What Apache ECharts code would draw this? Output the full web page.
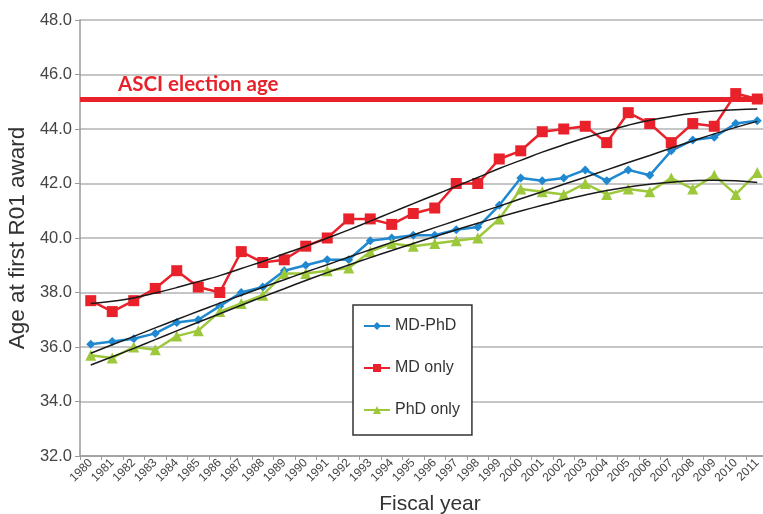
<!DOCTYPE html>
<html>
<head>
    <meta charset="utf-8">
    <title>Age at first R01 award</title>
    <script src="https://cdn.jsdelivr.net/npm/echarts@6/dist/echarts.min.js"></script>
    <style>
        html, body { margin: 0; padding: 0; background: #fff; }
        #chart1 { width: 763px; height: 514px; }
    </style>
</head>
<body>
<div id="chart1"></div>
<script type="text/javascript">
    // fiscal years
    var years = ['1980','1981','1982','1983','1984','1985','1986','1987','1988','1989',
        '1990','1991','1992','1993','1994','1995','1996','1997','1998','1999',
        '2000','2001','2002','2003','2004','2005','2006','2007','2008','2009','2010','2011'];

    // age at first R01 award
    var mdPhd = [36.1, 36.2, 36.3, 36.5, 36.9, 37.0, 37.5, 38.0, 38.2, 38.8,
        39.0, 39.2, 39.2, 39.9, 40.0, 40.1, 40.1, 40.3, 40.4, 41.2,
        42.2, 42.1, 42.2, 42.5, 42.1, 42.5, 42.3, 43.2, 43.6, 43.7, 44.2, 44.3];
    var mdOnly = [37.7, 37.3, 37.7, 38.15, 38.8, 38.2, 38.0, 39.5, 39.1, 39.2,
        39.7, 40.0, 40.7, 40.7, 40.5, 40.9, 41.1, 42.0, 42.0, 42.9,
        43.2, 43.9, 44.0, 44.1, 43.5, 44.6, 44.2, 43.5, 44.2, 44.1, 45.3, 45.1];
    var phdOnly = [35.7, 35.6, 36.0, 35.9, 36.4, 36.6, 37.3, 37.6, 37.9, 38.7,
        38.7, 38.8, 38.9, 39.5, 39.8, 39.7, 39.8, 39.9, 40.0, 40.7,
        41.8, 41.7, 41.6, 42.0, 41.6, 41.8, 41.7, 42.2, 41.8, 42.3, 41.6, 42.4];

    // trend lines
    var mdOnlyTrend = [37.60, 37.68, 37.80, 37.98, 38.18, 38.40, 38.62, 38.88, 39.14, 39.42,
        39.70, 40.00, 40.30, 40.62, 40.94, 41.26, 41.58, 41.90, 42.22, 42.55,
        42.85, 43.15, 43.42, 43.68, 43.92, 44.14, 44.32, 44.46, 44.58, 44.66, 44.71, 44.73];
    var mdPhdTrend = [35.77, 36.08, 36.39, 36.70, 37.01, 37.31, 37.61, 37.90, 38.19, 38.47,
        38.75, 39.02, 39.30, 39.57, 39.84, 40.11, 40.38, 40.64, 40.91, 41.17,
        41.44, 41.70, 41.97, 42.23, 42.50, 42.77, 43.03, 43.30, 43.56, 43.82, 44.06, 44.28];
    var phdOnlyTrend = [35.34, 35.64, 35.95, 36.27, 36.59, 36.91, 37.22, 37.53, 37.84, 38.14,
        38.44, 38.73, 39.01, 39.28, 39.54, 39.80, 40.05, 40.30, 40.54, 40.77,
        40.99, 41.20, 41.40, 41.58, 41.74, 41.87, 41.97, 42.05, 42.10, 42.12, 42.10, 42.04];

    var asciAge = 45.1;
    var yTicks = [32, 34, 36, 38, 40, 42, 44, 46, 48];

    var myChart1 = echarts.init(document.getElementById('chart1'));

    function trend(data) {
        return {
            type: 'line',
            data: data,
            smooth: true,
            symbol: 'none',
            silent: true,
            z: 5,
            lineStyle: { color: '#1a1a1a', width: 1.5 }
        };
    }

    myChart1.setOption({
        animation: false,
        textStyle: { fontFamily: 'Liberation Sans, Arial, sans-serif' },
        grid: { left: 80, top: 20, width: 688, height: 436, containLabel: false, outerBoundsMode: 'none' },
        legend: {
            data: ['MD-PhD', 'MD only', 'PhD only'],
            orient: 'vertical',
            left: 353,
            top: 305,
            padding: [13, 12, 17, 10],
            itemGap: 26,
            itemWidth: 26,
            itemHeight: 10,
            borderColor: '#333',
            borderWidth: 1.5,
            backgroundColor: '#fff',
            textStyle: { fontSize: 16, color: '#333' }
        },
        xAxis: {
            type: 'category',
            data: years,
            boundaryGap: true,
            name: 'Fiscal year',
            nameLocation: 'middle',
            nameGap: 38,
            nameTextStyle: { fontSize: 21, color: '#333', padding: [0, 0, 0, 12] },
            axisLine: { lineStyle: { color: '#999', width: 1.5 } },
            axisTick: { show: true, length: 4, lineStyle: { color: '#999' } },
            axisLabel: { rotate: 45, fontSize: 12, color: '#444', margin: 5, interval: 0 },
            splitLine: { show: false }
        },
        yAxis: {
            type: 'value',
            min: yTicks[0],
            max: yTicks[yTicks.length - 1],
            interval: 2,
            name: 'Age at first R01 award',
            nameLocation: 'middle',
            nameGap: 49,
            nameTextStyle: { fontSize: 22.5, color: '#333' },
            axisLine: { show: true, lineStyle: { color: '#999', width: 1.5 } },
            axisTick: { show: true, length: 5, lineStyle: { color: '#999' } },
            axisLabel: {
                fontSize: 16.5, color: '#444', margin: 8,
                formatter: function (v) { return v.toFixed(1); }
            },
            splitLine: { lineStyle: { color: '#b3b3b3', width: 1.5 } }
        },
        series: [
            {
                name: 'MD-PhD',
                type: 'line',
                data: mdPhd,
                symbol: 'diamond',
                symbolSize: 9,
                z: 3,
                itemStyle: { color: '#1f88d0' },
                lineStyle: { color: '#1f88d0', width: 2.5 }
            },
            {
                name: 'MD only',
                type: 'line',
                data: mdOnly,
                symbol: 'rect',
                symbolSize: 11,
                z: 4,
                itemStyle: { color: '#e8212b' },
                lineStyle: { color: '#e8212b', width: 2.5 },
                markLine: {
                    silent: true,
                    symbol: 'none',
                    lineStyle: { color: '#e8212b', width: 5, type: 'solid' },
                    label: {
                        show: true,
                        position: 'insideStartTop',
                        formatter: 'ASCI election age',
                        color: '#e8212b',
                        fontSize: 20.5,
                        fontWeight: 'bold',
                        fontFamily: 'Lato, Open Sans, sans-serif',
                        distance: [38, 4]
                    },
                    data: [{ yAxis: asciAge }]
                }
            },
            {
                name: 'PhD only',
                type: 'line',
                data: phdOnly,
                symbol: 'triangle',
                symbolSize: 11,
                z: 3,
                itemStyle: { color: '#9dc83c' },
                lineStyle: { color: '#9dc83c', width: 2.5 }
            },
            trend(mdOnlyTrend),
            trend(mdPhdTrend),
            trend(phdOnlyTrend)
        ]
    });
</script>
</body>
</html>
